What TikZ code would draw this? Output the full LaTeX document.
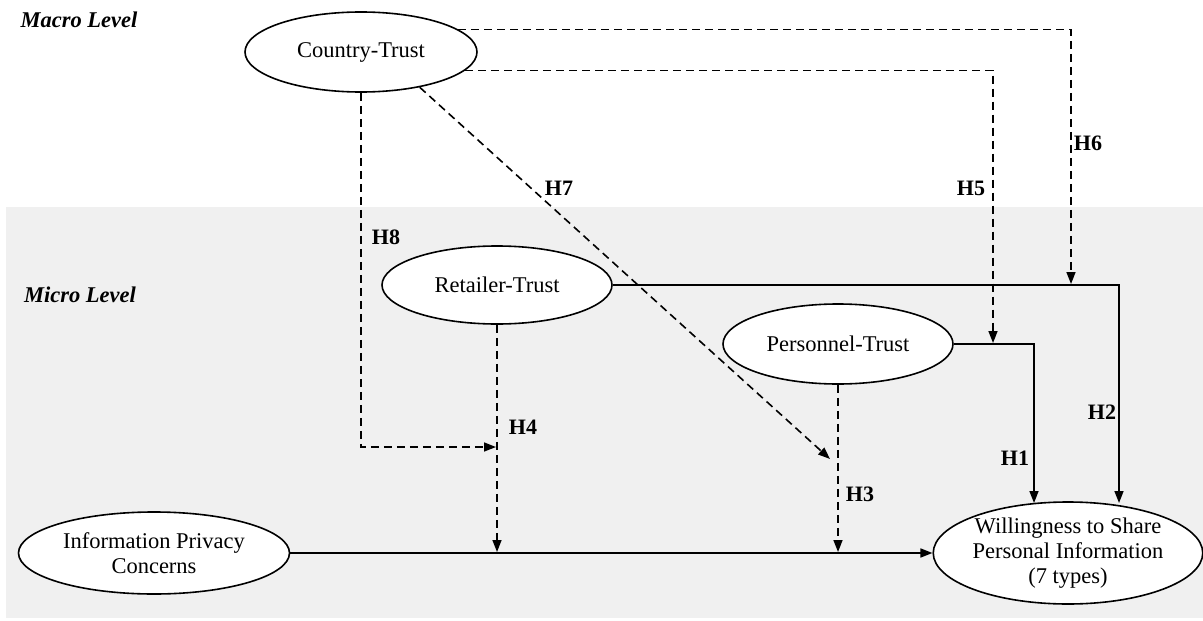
\documentclass[tikz,border=0pt]{standalone}
\usepackage{fontspec}
\setmainfont{Liberation Serif}
\usetikzlibrary{shapes.geometric,arrows.meta}
\definecolor{bggray}{HTML}{F0F0F0}
\tikzset{
  construct/.style={ellipse,draw=black,line width=1.6pt,fill=white,inner sep=0pt,align=center,font=\fontsize{22.5}{25}\selectfont},
  conn/.style={line width=1.6pt,-{Triangle[length=12pt,width=9pt]}},
  dconn/.style={conn,dash pattern=on 8pt off 5pt},
  hlabel/.style={font=\fontsize{22}{24}\selectfont\bfseries},
  level/.style={font=\fontsize{22.5}{24}\selectfont\bfseries\itshape}
}
\begin{document}
\begin{tikzpicture}[x=1pt,y=-1pt]
\useasboundingbox (0,0) rectangle (1203,621);
\fill[white] (0,0) rectangle (1203,621);
\fill[bggray] (6,207) rectangle (1203,618);
\node[level] (macro) at (79,20) {Macro Level};
\node[level] (micro) at (80,295) {Micro Level};
\node[construct,minimum width=232pt,minimum height=80pt] (ct) at (361,52) {Country-Trust};
\node[construct,minimum width=230pt,minimum height=78pt] (rt) at (497,285) {Retailer-Trust};
\node[construct,minimum width=230pt,minimum height=80pt] (pt) at (838,344) {Personnel-Trust};
\node[construct,minimum width=271pt,minimum height=82pt] (ipc) at (154,553) {Information Privacy\\Concerns};
\node[construct,minimum width=262pt,minimum height=102pt] (ws) at (1068,553) {Willingness to Share\\Personal Information\\(7 types)};
\coordinate (h6end) at (1071,284);
\coordinate (h5end) at (993,343);
\coordinate (h8end) at (496,447);
\coordinate (h8turn) at (361,447);
\coordinate (h7end) at (830,459);
\coordinate (h4end) at (497,552);
\coordinate (h3end) at (838,552);
\coordinate (h2end) at (1119,503);
\coordinate (h1end) at (1034,503);
\draw[dconn] (ct.13.6) -| (h6end);
\draw[dconn] (ct.-10.5) -| (h5end);
\draw[dconn] (ct.south) -- (h8turn) -- (h8end);
\draw[dconn] (ct.-31.5) -- (h7end);
\draw[dconn] (rt.south) -- (h4end);
\draw[dconn] (pt.south) -- (h3end);
\draw[conn] (rt.east) -| (h2end);
\draw[conn] (pt.east) -| (h1end);
\draw[conn] (ipc.east) -- (ws.west);
\node[hlabel] (l6) at (1088,143) {H6};
\node[hlabel] (l5) at (971,188) {H5};
\node[hlabel] (l7) at (559,188) {H7};
\node[hlabel] (l8) at (386,237) {H8};
\node[hlabel] (l4) at (523,427) {H4};
\node[hlabel] (l2) at (1102,412) {H2};
\node[hlabel] (l1) at (1015,458) {H1};
\node[hlabel] (l3) at (860,494) {H3};
\end{tikzpicture}
\end{document}
